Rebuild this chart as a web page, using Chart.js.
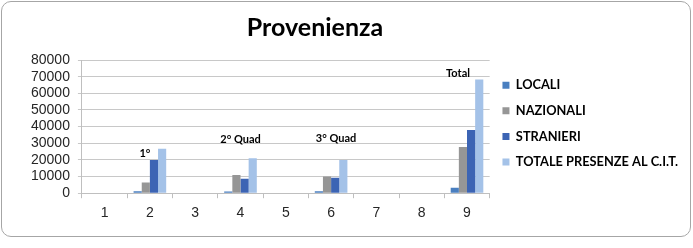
<!DOCTYPE html>
<html>
<head>
<meta charset="utf-8">
<script src="https://cdn.jsdelivr.net/npm/chart.js@4/dist/chart.umd.min.js"></script>
<style>
  html, body { margin: 0; padding: 0; background: #fff; }
  #wrap { position: relative; width: 693px; height: 248px; }
  #frame { position: absolute; left: 1px; top: 1px; width: 688px; height: 234px; border: 1px solid #a6a6a6; border-radius: 10px; pointer-events: none; }
  canvas { position: absolute; left: 0; top: 0; }
</style>
</head>
<body>
<div id="wrap">
  <canvas id="c" width="693" height="248"></canvas>
  <div id="frame"></div>
</div>
<script>
const categories = ['1', '2', '3', '4', '5', '6', '7', '8', '9'];
const locali     = [0, 1100, 0, 1000, 0, 1100, 0, 0, 3200];
const nazionali  = [0, 6500, 0, 10900, 0, 10100, 0, 0, 27700];
const stranieri  = [0, 20000, 0, 8700, 0, 9300, 0, 0, 38000];
const totale     = [0, 26700, 0, 21000, 0, 20000, 0, 0, 68300];
const yTicks     = [0, 10000, 20000, 30000, 40000, 50000, 60000, 70000, 80000];
const seriesNames = ['LOCALI', 'NAZIONALI', 'STRANIERI', 'TOTALE PRESENZE AL C.I.T.'];
const chartTitle = 'Provenienza';
const noteTexts  = ['1°', '2° Quad', '3° Quad', 'Total'];
const noteCats   = [1, 3, 5, 8];
const noteValues = [23600, 32400, 33000, 71800];

const noteDx = [-5, 0, 5, -9];

const notesPlugin = {
  id: 'notes',
  afterDatasetsDraw(chart) {
    const {ctx, scales: {x, y}} = chart;
    ctx.save();
    ctx.font = 'bold 11px Lato';
    ctx.fillStyle = '#000';
    ctx.textAlign = 'center';
    ctx.textBaseline = 'middle';
    noteTexts.forEach((t, i) => {
      ctx.fillText(t, x.getPixelForValue(noteCats[i]) + noteDx[i], y.getPixelForValue(noteValues[i]));
    });
    ctx.restore();
  }
};

const titlePlugin = {
  id: 'ownTitle',
  afterDraw(chart) {
    const ctx = chart.ctx;
    ctx.save();
    ctx.font = 'bold 25px Lato';
    ctx.fillStyle = '#000';
    ctx.textAlign = 'center';
    ctx.textBaseline = 'middle';
    ctx.fillText(chartTitle, 315, 28);
    ctx.restore();
  }
};

new Chart(document.getElementById('c'), {
  type: 'bar',
  data: {
    labels: categories,
    datasets: [
      { label: seriesNames[0], data: locali, backgroundColor: '#4a7fc0' },
      { label: seriesNames[1], data: nazionali, backgroundColor: '#969696' },
      { label: seriesNames[2], data: stranieri, backgroundColor: '#3c64b4' },
      { label: seriesNames[3], data: totale, backgroundColor: '#a4c2e8' }
    ]
  },
  options: {
    responsive: false,
    animation: false,
    devicePixelRatio: 1,
    layout: { padding: { left: 23, right: 5, top: 60, bottom: 19 } },
    datasets: { bar: { categoryPercentage: 0.72, barPercentage: 1 } },
    scales: {
      x: {
        grid: { display: true, drawOnChartArea: false, drawTicks: true, tickLength: 5, color: '#bfbfbf', offset: true },
        border: { display: true, color: '#bfbfbf' },
        ticks: { font: { family: 'Liberation Sans', size: 14 }, color: '#262626', padding: 7 }
      },
      y: {
        min: 0, max: 80000,
        afterBuildTicks(scale) { scale.ticks = yTicks.map(v => ({ value: v })); },
        grid: { color: '#c8c8c8', drawTicks: true, tickLength: 4 },
        border: { display: true, color: '#bfbfbf' },
        ticks: {
          font: { family: 'Liberation Sans', size: 14 }, color: '#262626', padding: 8,
          autoSkip: false,
          callback: (v) => String(v)
        }
      }
    },
    plugins: {
      title: { display: false },
      legend: {
        position: 'right',
        align: 'start',
        maxWidth: 205,
        title: { display: true, text: ' ', font: { size: 1, lineHeight: 1 }, padding: { top: 2.5, bottom: 2.5 } },
        labels: {
          boxWidth: 7, boxHeight: 7, padding: 12.8, color: '#000',
          font: { family: 'Lato', size: 12.8, weight: 'bold' }
        }
      },
      tooltip: { enabled: false }
    }
  },
  plugins: [notesPlugin, titlePlugin]
});
</script>
</body>
</html>
